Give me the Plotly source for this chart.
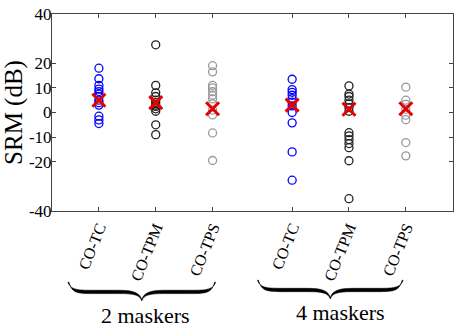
import plotly.graph_objects as go

categories = ["CO-TC", "CO-TPM", "CO-TPS", "CO-TC", "CO-TPM", "CO-TPS"]
positions = [1, 2, 3, 4.4, 5.4, 6.4]
colors = ["#0000ff", "#222222", "#999999", "#0000ff", "#222222", "#999999"]

tc_2 = [18, 13.7, 11, 9.5, 8.5, 7.5, 6.5, 5, 4, 3, -1.5, -3, -4.5]
tpm_2 = [27.5, 11, 8, 6.5, 5, 4, 3, 2.5, 1.5, 0.5, -5, -9]
tps_2 = [19, 16.5, 11, 10, 8.5, 7, 5.5, 3.5, 1, -1, -8.3, -19.5]
tc_4 = [13.5, 9.3, 8.2, 7, 5.6, 4.2, 2.7, 0, -4.2, -16, -27.5]
tpm_4 = [10.8, 7.5, 6.5, 5, 3.5, 2, 0.5, -8.2, -9.5, -11, -12.6, -14.3, -19.6, -35]
tps_4 = [10.3, 5, 3.3, 1.3, -1.1, -2.9, -12.2, -17.6]
groups = [tc_2, tpm_2, tps_2, tc_4, tpm_4, tps_4]
centre = [5, 4, 1.5, 3, 1.3, 1.5]

y_ticks = [-40, -20, -10, 0, 10, 20, 40]
group_labels = ["2 maskers", "4 maskers"]

W, H = 459, 334
L, R, T, B = 52, 5, 9, 123
pw, ph = W - L - R, H - T - B

fig = go.Figure()
for pos, vals, col in zip(positions, groups, colors):
    fig.add_trace(go.Scatter(
        x=[pos] * len(vals), y=vals, mode="markers",
        marker=dict(symbol="circle-open", size=8, color=col, line=dict(width=1.3, color=col)),
        showlegend=False, hoverinfo="y"))
fig.add_trace(go.Scatter(
    x=positions, y=centre, mode="markers",
    marker=dict(symbol="x-thin-open", size=13, color="#e60000", line=dict(width=3, color="#e60000")),
    showlegend=False))


def px(x, y):
    return ((x - L) / pw, (H - B - y) / ph)


def brace(x0, x1, ytip, yarm, ypt):
    xm = (x0 + x1) / 2
    t = 1.7
    pts = [
        ("M", [(x0, ytip)]),
        ("C", [(x0 + 3, yarm - t), (x0 + 10, yarm - t), (x0 + 28, yarm - t)]),
        ("L", [(xm - 22, yarm - t)]),
        ("C", [(xm - 8, yarm - t), (xm - 2, yarm + 1), (xm, ypt)]),
        ("C", [(xm + 2, yarm + 1), (xm + 8, yarm - t), (xm + 22, yarm - t)]),
        ("L", [(x1 - 28, yarm - t)]),
        ("C", [(x1 - 10, yarm - t), (x1 - 3, yarm - t), (x1, ytip)]),
        ("L", [(x1 - 1, ytip)]),
        ("C", [(x1 - 4, yarm + t), (x1 - 10, yarm + t), (x1 - 28, yarm + t)]),
        ("L", [(xm + 22, yarm + t)]),
        ("C", [(xm + 8, yarm + t), (xm + 2, yarm + 3), (xm, ypt + 1.2)]),
        ("C", [(xm - 2, yarm + 3), (xm - 8, yarm + t), (xm - 22, yarm + t)]),
        ("L", [(x0 + 28, yarm + t)]),
        ("C", [(x0 + 10, yarm + t), (x0 + 4, yarm + t), (x0 + 1, ytip)]),
    ]
    s = ""
    for cmd, ps in pts:
        s += cmd + " ".join("%.5f,%.5f" % px(a, b) for a, b in ps) + " "
    return s + "Z"


shapes = [
    dict(type="path", xref="paper", yref="paper", path=brace(68, 216, 284, 294, 302),
         fillcolor="black", line=dict(width=0.6, color="black")),
    dict(type="path", xref="paper", yref="paper", path=brace(258, 404, 282, 292, 300),
         fillcolor="black", line=dict(width=0.6, color="black")),
]

annotations = []
for lab, cx, cy in zip(group_labels, [146, 341], [318, 315]):
    ax, ay = px(cx, cy)
    annotations.append(dict(text=lab, x=ax, y=ay, xref="paper", yref="paper",
                            showarrow=False, xanchor="center", yanchor="middle",
                            font=dict(family="Liberation Serif", size=22, color="black")))

axis_common = dict(showline=True, linecolor="#444444", linewidth=1, mirror="ticks",
                   ticks="inside", ticklen=4, tickcolor="#444444", showgrid=False,
                   zeroline=False, ticklabeloverflow="allow")

fig.update_layout(
    width=W, height=H, margin=dict(l=L, r=R, t=T, b=B),
    plot_bgcolor="white", paper_bgcolor="white",
    xaxis=dict(range=[0.175, 7.23], tickvals=positions, ticktext=categories,
               tickangle=-68, tickfont=dict(family="Liberation Serif", size=16, color="black"),
               **axis_common),
    yaxis=dict(range=[-40, 40], tickvals=y_ticks, ticktext=[str(v) for v in y_ticks],
               tickfont=dict(family="Liberation Serif", size=17, color="black"),
               ticklabelstandoff=-4,
               title=dict(text="SRM (dB)", font=dict(family="Liberation Serif", size=25, color="black"),
                          standoff=6),
               **axis_common),
    shapes=shapes, annotations=annotations,
)
fig.write_html("out.html", config={"displayModeBar": False},
               post_script="document.body.style.margin='0px';")
